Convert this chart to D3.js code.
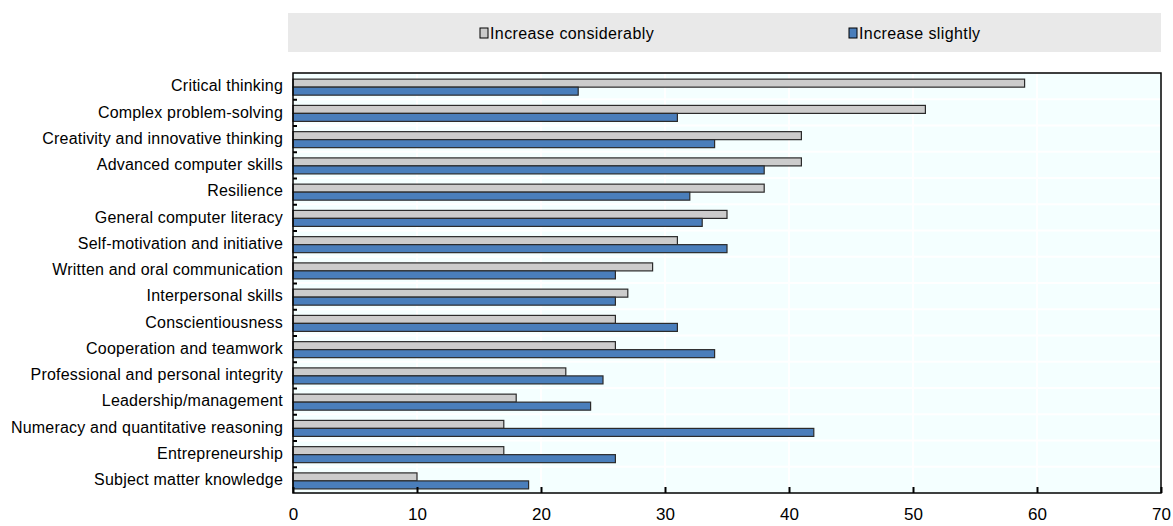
<!DOCTYPE html>
<html>
<head>
<meta charset="utf-8">
<script src="https://cdn.jsdelivr.net/npm/d3@7"></script>
<style>
  html, body { margin: 0; padding: 0; background: #ffffff; }
  svg text { font-family: "Liberation Sans Narrow", "Arial Narrow", "Liberation Sans", Arial, sans-serif; fill: #000; }
</style>
</head>
<body>
<svg id="chart" width="1173" height="526"></svg>
<script>
// Skills expected to grow in importance (% of respondents)
const categories = [
  "Critical thinking",
  "Complex problem-solving",
  "Creativity and innovative thinking",
  "Advanced computer skills",
  "Resilience",
  "General computer literacy",
  "Self-motivation and initiative",
  "Written and oral communication",
  "Interpersonal skills",
  "Conscientiousness",
  "Cooperation and teamwork",
  "Professional and personal integrity",
  "Leadership/management",
  "Numeracy and quantitative reasoning",
  "Entrepreneurship",
  "Subject matter knowledge"
];
const increaseConsiderably = [59, 51, 41, 41, 38, 35, 31, 29, 27, 26, 26, 22, 18, 17, 17, 10];
const increaseSlightly     = [23, 31, 34, 38, 32, 33, 35, 26, 26, 31, 34, 25, 24, 42, 26, 19];
const seriesNames = ["Increase considerably", "Increase slightly"];
const xTicks = [0, 10, 20, 30, 40, 50, 60, 70];

const seriesColors = { "Increase considerably": "#cccccc", "Increase slightly": "#4a7ebb" };

const rows = categories.map((c, i) => ({
  category: c,
  values: [
    { series: seriesNames[0], value: increaseConsiderably[i] },
    { series: seriesNames[1], value: increaseSlightly[i] }
  ]
}));

const svg = d3.select("#chart");
const plot = { left: 293, right: 1161, top: 73, bottom: 493 };

const x = d3.scaleLinear().domain([0, 70]).range([plot.left, plot.right]);
const y = d3.scaleBand().domain(categories).range([plot.top, plot.bottom]).padding(0);
const ySub = d3.scaleBand().domain(seriesNames).range([0, y.bandwidth()])
  .paddingInner(0).paddingOuter(0.64).align(0.6);
const yEdge = d3.scaleLinear().domain([0, categories.length]).range([plot.top, plot.bottom]);

// Legend strip
const legend = svg.append("g");
legend.append("rect").attr("x", 288).attr("y", 13).attr("width", plot.right - 288).attr("height", 39)
  .attr("fill", "#e9e9e9");
const legendX = d3.scalePoint().domain(seriesNames).range([480, 849]);
const li = legend.selectAll("g.item").data(seriesNames).join("g").attr("class", "item")
  .attr("transform", d => `translate(${legendX(d)},33)`);
li.append("rect").attr("x", 0).attr("y", -5).attr("width", 8).attr("height", 10)
  .attr("fill", d => seriesColors[d]).attr("stroke", "#000").attr("stroke-width", 1);
li.append("text").attr("x", 10).attr("y", 0).attr("dy", "0.35em")
  .style("font-size", "16px").style("letter-spacing", "0.4px").text(d => d);

// Plot background
svg.append("rect").attr("x", plot.left).attr("y", plot.top)
  .attr("width", plot.right - plot.left).attr("height", plot.bottom - plot.top)
  .attr("fill", "#f4ffff");

// White gridlines
const grid = svg.append("g").attr("stroke", "#ffffff").attr("stroke-width", 2);
grid.selectAll("line.v").data(xTicks.slice(1, -1)).join("line").attr("class", "v")
  .attr("x1", d => x(d)).attr("x2", d => x(d)).attr("y1", plot.top).attr("y2", plot.bottom);
grid.selectAll("line.h").data(d3.range(1, categories.length)).join("line").attr("class", "h")
  .attr("x1", plot.left).attr("x2", plot.right).attr("y1", d => yEdge(d)).attr("y2", d => yEdge(d));

// Bars
const groups = svg.append("g").selectAll("g").data(rows).join("g")
  .attr("transform", d => `translate(0,${y(d.category)})`);
groups.selectAll("rect").data(d => d.values).join("rect")
  .attr("x", x(0))
  .attr("y", d => ySub(d.series))
  .attr("width", d => x(d.value) - x(0))
  .attr("height", ySub.bandwidth())
  .attr("fill", d => seriesColors[d.series])
  .attr("stroke", "#2b2b2b").attr("stroke-width", 1.2);

// Category labels
const yAxis = svg.append("g").attr("transform", `translate(${plot.left},0)`)
  .call(d3.axisLeft(y).tickSize(0).tickPadding(10));
yAxis.select(".domain").remove();
yAxis.selectAll("text").style("font-size", "16px").style("letter-spacing", "0.2px");

// Inward ticks on the left edge at category boundaries
const yTicks = svg.append("g").attr("transform", `translate(${plot.left},0)`)
  .call(d3.axisRight(yEdge).tickValues(d3.range(1, categories.length)).tickSize(4).tickFormat(""));
yTicks.select(".domain").remove();
yTicks.selectAll("line").attr("stroke", "#000").attr("stroke-width", 2);

// Bottom axis with inward ticks
const xAxis = svg.append("g").attr("transform", `translate(0,${plot.bottom})`)
  .call(d3.axisBottom(x).tickValues(xTicks).tickSizeInner(-6).tickSizeOuter(0).tickPadding(15));
xAxis.select(".domain").remove();
xAxis.selectAll("line").attr("stroke", "#000").attr("stroke-width", 2);
xAxis.selectAll("text").style("font-size", "17px");

// Plot frame
svg.append("rect").attr("x", plot.left).attr("y", plot.top)
  .attr("width", plot.right - plot.left).attr("height", plot.bottom - plot.top)
  .attr("fill", "none").attr("stroke", "#000").attr("stroke-width", 1.5);
</script>
</body>
</html>
